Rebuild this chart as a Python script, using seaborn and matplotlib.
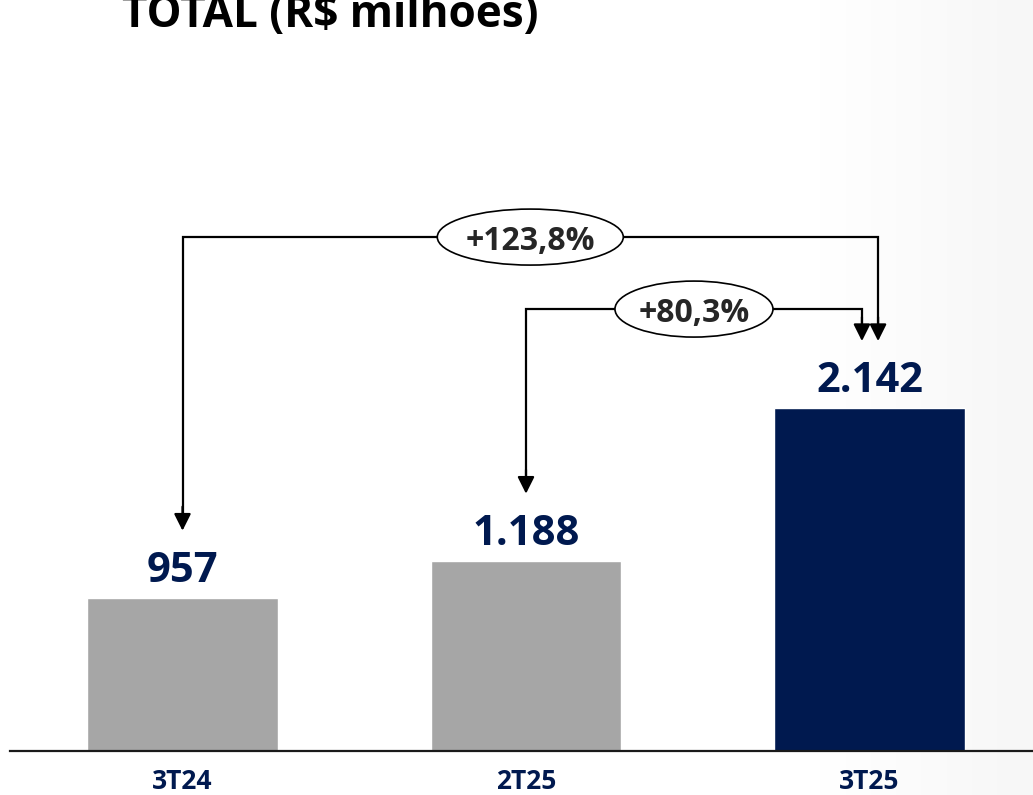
import numpy as np
import pandas as pd
import matplotlib
matplotlib.use("Agg")
import matplotlib.pyplot as plt
from matplotlib.patches import Ellipse
import seaborn as sns

# ---------------- data ----------------
categories = ["3T24", "2T25", "3T25"]
values = [957, 1188, 2142]
value_labels = ["957", "1.188", "2.142"]
bar_colors = ["#A6A6A6", "#A6A6A6", "#00194F"]
growth_from = [0, 1]
growth_to = [2, 2]
growth_labels = ["+123,8%", "+80,3%"]
title = "TOTAL (R$ milhões)"

# ---------------- style ----------------
NAVY = "#00194F"
sns.set_style("white")
plt.rcParams["font.family"] = ["Open Sans", "DejaVu Sans"]

W, H = 1033, 795
fig = plt.figure(figsize=(W / 100, H / 100), dpi=100)

# subtle background gradient on the right edge
bg = fig.add_axes([0, 0, 1, 1], zorder=-5)
xs = np.arange(W)
g = np.clip((xs - 820) / 180.0, 0, 1)
shade = 1.0 - 0.028 * g
img = np.dstack([np.tile(shade, (2, 1))] * 3)
bg.imshow(img, aspect="auto", extent=[0, 1, 0, 1], interpolation="bilinear")
bg.set_axis_off()

ax = fig.add_axes([10 / W, 44 / H, 1 - 10 / W, 751 / H])
ax.patch.set_alpha(0)

df = pd.DataFrame({"cat": categories, "val": values})
sns.barplot(data=df, x="cat", y="val", hue="cat", palette=bar_colors,
            order=categories, hue_order=categories, width=0.556,
            saturation=1, legend=False, ax=ax)

px_per_unit = 0.16
ax.set_ylim(0, 751 / px_per_unit)
ax.set_xlim(-0.5022, 2.476)

for s in ["top", "right", "left"]:
    ax.spines[s].set_visible(False)
ax.spines["bottom"].set_linewidth(1.6)
ax.spines["bottom"].set_color("#1a1a1a")
ax.set_yticks([])
ax.set_xlabel("")
ax.set_ylabel("")
ax.set_xticks(range(len(categories)))
ax.set_xticklabels(categories, fontsize=19, fontweight="bold", color=NAVY)
ax.tick_params(axis="x", length=0, pad=12)

# value labels
label_gap = 100
for i, (v, lab) in enumerate(zip(values, value_labels)):
    ax.text(i, v + label_gap, lab, ha="center", va="baseline",
            fontsize=30, fontweight="bold", color=NAVY)

# growth brackets
vmax = max(values)
levels = [vmax + 1070, vmax + 620]
tip_gap = 420
right_offsets = [0.025, -0.022]
ell_widths = [0.5415, 0.46]
ell_height = 350
arrow_kw = dict(arrowstyle="-|>,head_length=0.6,head_width=0.3",
                mutation_scale=17, color="black", lw=1.6,
                shrinkA=0, shrinkB=0)
for a, b, lev, off, ew, lab in zip(growth_from, growth_to, levels,
                                   right_offsets, ell_widths, growth_labels):
    xa = a
    xb = b + off
    ya = values[a] + tip_gap
    yb = values[b] + tip_gap
    ax.plot([xa, xa, xb, xb], [ya + 60, lev, lev, yb + 60],
            color="black", lw=1.6, solid_joinstyle="miter", zorder=3)
    for x0, y0 in [(xa, ya), (xb, yb)]:
        ax.annotate("", xy=(x0, y0), xytext=(x0, y0 + 150),
                    arrowprops=arrow_kw, zorder=4)
    cx = (xa + xb) / 2
    ax.add_patch(Ellipse((cx, lev), ew, ell_height, facecolor="white",
                         edgecolor="black", lw=1.2, zorder=5))
    ax.text(cx, lev, lab, ha="center", va="center_baseline", fontsize=23,
            fontweight="bold", color="#262626", zorder=6)

fig.text(122 / W, 1 - 27 / H, title, ha="left", va="baseline",
         fontsize=31.7, fontweight="bold", color="black")

fig.savefig("out.png", dpi=100)
